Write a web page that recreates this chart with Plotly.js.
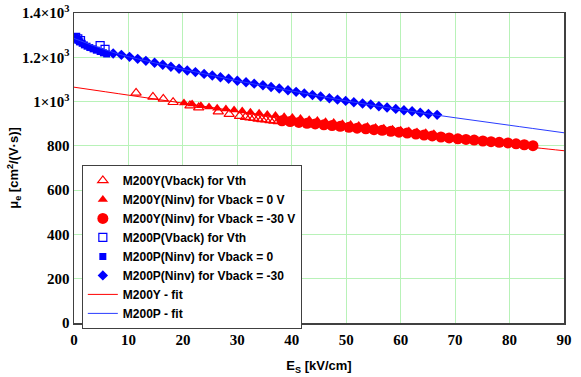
<!DOCTYPE html>
<html>
<head>
<meta charset="utf-8">
<script src="https://cdn.plot.ly/plotly-3.0.1.min.js"></script>
<style>html,body{margin:0;padding:0;background:#fff;}#chart{width:581px;height:377px;}</style>
</head>
<body>
<div id="chart"></div>
<script>
// M200Y (Vback) for Vth  - open red triangles
const yVthX = [11.4, 14.5, 16.4, 18.2, 21.3, 22.9, 26.5, 28.5, 30.4, 31.5, 32.3, 33.0, 33.8, 34.5, 35.2, 36.0, 36.7, 37.5];
const yVthY = [1039, 1021, 1012, 997, 982, 973, 955, 943, 934, 930, 927, 925, 922, 920, 918, 915, 913, 911];

// M200Y (Ninv) for Vback = 0 V - filled red triangles
const yN0X = [20.2, 21.7, 23.3, 24.8, 26.3, 27.9, 29.4, 30.9, 32.4, 34.0, 35.5, 37.0, 38.6, 40.1, 41.6, 43.2, 44.7, 46.2, 47.7, 49.3, 50.8, 52.3, 53.9, 55.4, 56.9, 58.5, 60.0, 61.5, 63.0, 64.6, 66.1];
const yN0Y = [994, 989, 981, 976, 970, 966, 962, 957, 952, 947, 942, 937, 932, 928, 923, 918, 914, 909, 905, 900, 896, 892, 887, 883, 879, 875, 871, 867, 863, 859, 855];

// M200Y (Ninv) for Vback = -30 V - filled red circles
const yN30X = [38.2, 39.7, 41.3, 42.8, 44.3, 45.9, 47.4, 48.9, 50.5, 52.0, 53.6, 55.1, 56.6, 58.2, 59.7, 61.2, 62.8, 64.3, 65.8, 67.4, 68.9, 70.5, 72.0, 73.5, 75.1, 76.6, 78.1, 79.7, 81.2, 82.7, 84.3];
const yN30Y = [913, 910, 906, 902, 899, 895, 892, 888, 884, 880, 877, 873, 870, 866, 862, 858, 853, 849, 845, 840, 836, 832, 829, 826, 822, 819, 816, 813, 809, 805, 801];

// M200P (Vback) for Vth - open blue squares
const pVthX = [0.3, 0.7, 1.2, 4.8, 5.7];
const pVthY = [1290, 1283, 1275, 1253, 1236];

// M200P (Ninv) for Vback = 0 - filled blue squares
const pN0X = [0.1, 0.3, 0.5, 0.8, 1.1, 1.5, 1.9, 2.4, 2.9, 3.5, 4.1, 4.8, 5.4, 6.0];
const pN0Y = [1292, 1288, 1283, 1277, 1270, 1263, 1256, 1250, 1244, 1238, 1232, 1226, 1220, 1215];

// M200P (Ninv) for Vback = -30 - blue diamonds
const pN30X = [7.2, 8.7, 10.2, 11.7, 13.2, 14.8, 16.3, 17.8, 19.3, 20.8, 22.3, 23.9, 25.4, 26.9, 28.4, 30.0,
  31.6, 33.1, 34.7, 36.2, 37.7, 39.3, 40.8, 42.3, 43.8, 45.3, 46.9, 48.4, 49.9, 51.4, 53.0, 54.5, 56.0, 57.5, 59.1, 60.6,
  62.1, 63.6, 65.1, 66.7];
const pN30Y = [1217, 1211, 1202, 1193, 1184, 1175, 1166, 1157, 1148, 1140, 1133, 1125, 1118, 1110, 1103, 1094,
  1087, 1081, 1074, 1066, 1059, 1051, 1044, 1037, 1030, 1023, 1015, 1009, 1003, 997, 991, 987, 979, 973, 967, 961,
  956, 950, 944, 940];

// Fits
const yFitX = [0, 10, 20, 30, 40, 50, 60, 70, 80, 85, 90];
const yFitY = [1065, 1029, 993, 956, 921, 889, 859, 831, 804, 791, 778];
const pFitX = [0, 2, 4, 6, 8, 10, 15, 20, 25, 30, 40, 50, 60, 70, 80, 90];
const pFitY = [1285, 1267, 1249, 1232, 1216, 1203, 1174, 1146, 1120, 1094, 1048, 1003, 963, 927, 893, 859];

// Tick labels
const xTickVals = [0, 10, 20, 30, 40, 50, 60, 70, 80, 90];
const yTickVals = [0, 200, 400, 600, 800, 1000, 1200, 1400];
const yTickText = ['0', '200', '400', '600', '800', '1×10<sup>3</sup>', '1.2×10<sup>3</sup>', '1.4×10<sup>3</sup>'];

const RED = '#ff0000', BLUE = '#0000ff';

const traces = [
  {x: yVthX, y: yVthY, name: 'M200Y(Vback) for Vth', mode: 'markers',
   marker: {symbol: 'triangle-up-open', size: 9, color: RED, line: {width: 1.2}}},
  {x: yN0X, y: yN0Y, name: 'M200Y(Ninv) for Vback = 0 V', mode: 'markers',
   marker: {symbol: 'triangle-up', size: 9, color: RED}},
  {x: yN30X, y: yN30Y, name: 'M200Y(Ninv) for Vback = -30 V', mode: 'markers',
   marker: {symbol: 'circle', size: 11, color: RED}},
  {x: pVthX, y: pVthY, name: 'M200P(Vback) for Vth', mode: 'markers',
   marker: {symbol: 'square-open', size: 8, color: BLUE, line: {width: 1.2}}},
  {x: pN0X, y: pN0Y, name: 'M200P(Ninv) for Vback = 0', mode: 'markers',
   marker: {symbol: 'square', size: 7, color: BLUE}},
  {x: pN30X, y: pN30Y, name: 'M200P(Ninv) for Vback = -30', mode: 'markers',
   marker: {symbol: 'diamond', size: 8, color: BLUE}},
  {x: yFitX, y: yFitY, name: 'M200Y - fit', mode: 'lines', line: {color: RED, width: 1, shape: 'spline'}},
  {x: pFitX, y: pFitY, name: 'M200P - fit', mode: 'lines', line: {color: '#2a3cff', width: 1, shape: 'spline'}}
];

const layout = {
  width: 581, height: 377,
  margin: {l: 74, r: 17, t: 13, b: 54},
  paper_bgcolor: '#ffffff', plot_bgcolor: '#ffffff',
  showlegend: true,
  legend: {
    x: 0.016, y: 0.51, xanchor: 'left', yanchor: 'top',
    bgcolor: '#ffffff', bordercolor: '#404040', borderwidth: 1,
    font: {family: 'Liberation Sans, Arial, sans-serif', size: 12, color: '#000', weight: 'bold'},
    tracegroupgap: 0
  },
  xaxis: {
    range: [0, 90], tickvals: xTickVals, ticktext: xTickVals.map(String),
    showgrid: true, gridcolor: '#b8f2b8', gridwidth: 1, zeroline: false,
    showline: true, mirror: true, linecolor: '#404040', linewidth: 1.5,
    ticks: '', ticklabelstandoff: 2,
    tickfont: {family: 'Liberation Serif, Times New Roman, serif', size: 15, color: '#000', weight: 'bold'},
    title: {text: 'E<sub>S</sub> [kV/cm]', standoff: 14,
      font: {family: 'Liberation Sans, Arial, sans-serif', size: 13, color: '#000', weight: 'bold'}}
  },
  yaxis: {
    range: [0, 1400], tickvals: yTickVals, ticktext: yTickText,
    showgrid: true, gridcolor: '#b8f2b8', gridwidth: 1, zeroline: false,
    showline: true, mirror: true, linecolor: '#404040', linewidth: 1.5,
    ticks: '',
    tickfont: {family: 'Liberation Serif, Times New Roman, serif', size: 15, color: '#000', weight: 'bold'},
    title: {text: 'μ<sub>e</sub> [cm<sup>2</sup>/(V·s)]', standoff: 0,
      font: {family: 'Liberation Sans, Arial, sans-serif', size: 13, color: '#000', weight: 'bold'}}
  }
};

Plotly.newPlot('chart', traces, layout, {displayModeBar: false, staticPlot: true});
</script>
</body>
</html>
